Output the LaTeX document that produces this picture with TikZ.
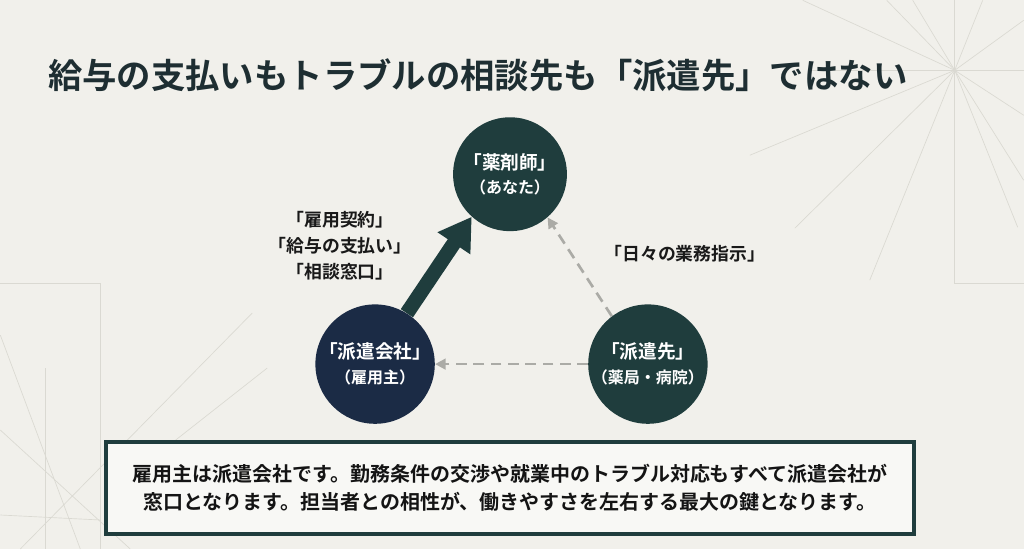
\documentclass[tikz,border=0pt]{standalone}
\usepackage{fontspec}
\setmainfont{Noto Sans CJK JP}[BoldFont={Noto Sans CJK JP Bold}]
\usepackage{tikz}
\usetikzlibrary{arrows.meta, positioning, backgrounds}

\definecolor{paper}{HTML}{F1F0EB}
\definecolor{tealdark}{HTML}{1F3D3D}
\definecolor{navydark}{HTML}{1B2B45}
\definecolor{inkdark}{HTML}{1E2E32}
\definecolor{dashgray}{HTML}{ABABA6}
\definecolor{decoline}{HTML}{DAD9D2}
\definecolor{boxfill}{HTML}{F8F8F5}

\begin{document}
\begin{tikzpicture}[
        x=0.75pt, y=-0.75pt,
        party/.style={circle, fill=tealdark, minimum size=85.5pt, inner sep=0pt, text=white, align=center, font=\bfseries\fontsize{14}{18.5}\selectfont},
        bigarrow/.style={-{Triangle[length=24pt, width=28pt]}, line width=11pt, tealdark},
        dasharrow/.style={-{Triangle[length=8pt, width=8pt]}, dash pattern=on 8pt off 5pt, line width=2pt, dashgray},
        tag/.style={align=center, text=black!90, font=\bfseries\fontsize{13.4}{19.5}\selectfont},
        notebox/.style={rectangle, draw=tealdark, line width=3pt, fill=boxfill, minimum width=606pt, minimum height=69pt, align=center, text=black!92, font=\bfseries\fontsize{15}{21}\selectfont},
        deco/.style={decoline, line width=0.5pt}
    ]

        % Background
        \begin{scope}[on background layer]
            \fill[paper] (0,0) rectangle (1024,549);
            \foreach \ex/\ey in {803/0, 887/0, 913/0, 983/0, 1024/20, 1024/115, 1024/180, 1018/227, 750/155, 795/228, 870/280, 810/70, 1024/70}
                \draw[deco] (955,70) -- (\ex,\ey);
            \draw[deco] (955,0) -- (955,283) -- (1024,283);
            \draw[deco] (0,283) -- (100,283) -- (100,549);
            \draw[deco] (45,368) -- (45,549);
            \draw[deco] (252,313) -- (20,549);
            \draw[deco] (267,368) -- (150,460);
            \draw[deco] (0,335) -- (80,549);
            \draw[deco] (0,430) -- (130,549);
            \draw[deco] (0,515) -- (100,520);
        \end{scope}
        \useasboundingbox (0,0) rectangle (1024,549);

        % Title
        \node[anchor=west, text=inkdark, font=\bfseries\fontsize{25.8}{30}\selectfont] (title) at (43,75) {給与の支払いもトラブルの相談先も「派遣先」ではない};

        % Parties
        \node[party] (pharm) at (510,174) {「薬剤師」\\{\fontsize{12}{14}\selectfont （あなた）}};
        \node[party, fill=navydark] (agency) at (375,364) {「派遣会社」\\{\fontsize{12}{14}\selectfont （雇用主）}};
        \node[party] (client) at (648,364) {「派遣先」\\{\fontsize{12}{14}\selectfont （薬局・病院）}};

        % Arrows
        \begin{scope}[on background layer]
            \draw[bigarrow] (agency.58) -- (pharm.228);
            \draw[dasharrow] (client.127) -- (pharm.311);
            \draw[dasharrow] (client.180) -- (agency.0);
        \end{scope}

        % Labels
        \node[tag] (terms) at (340,246) {「雇用契約」\\「給与の支払い」\\「相談窓口」};
        \node[tag] (orders) at (685,254) {「日々の業務指示」};

        % Note
        \node[notebox] (note) at (510,488) {雇用主は派遣会社です。勤務条件の交渉や就業中のトラブル対応もすべて派遣会社が\\窓口となります。担当者との相性が、働きやすさを左右する最大の鍵となります。};

    \end{tikzpicture}
\end{document}
